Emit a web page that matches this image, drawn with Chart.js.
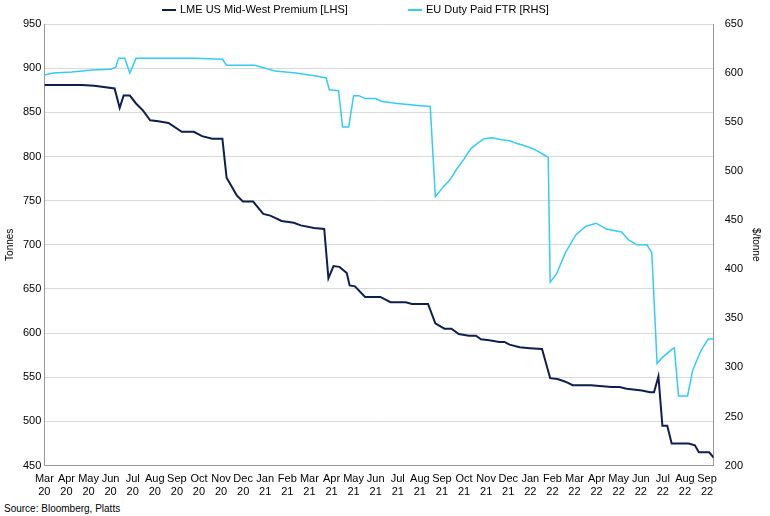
<!DOCTYPE html>
<html><head><meta charset="utf-8">
<script src="https://cdn.jsdelivr.net/npm/chart.js@4.4.0/dist/chart.umd.min.js"></script>
<style>
body{margin:0;background:#fff;font-family:"Liberation Sans",Arial,sans-serif}
#wrap{position:relative;width:770px;height:516px}
#src{position:absolute;left:4px;top:503px;font-size:10px;color:#000}
.lg{position:absolute;top:3px;font-size:11px;color:#000;white-space:nowrap}
.lg span{display:inline-block;width:14px;height:2px;vertical-align:middle;margin-right:4px}
</style></head><body>
<div id="wrap"><canvas id="c" width="770" height="502"></canvas>
<div class="lg" style="left:162px"><span style="background:#0d1f4f"></span>LME US Mid-West Premium [LHS]</div>
<div class="lg" style="left:408px"><span style="background:#33ccf5"></span>EU Duty Paid FTR [RHS]</div>
<div id="src">Source: Bloomberg, Platts</div></div>
<script>
const monthNames=['Mar','Apr','May','Jun','Jul','Aug','Sep','Oct','Nov','Dec','Jan','Feb'];
// x = months since Mar 2020
const lmeX=[0,1.7,2.26,3.18,3.41,3.59,3.87,4.15,4.47,4.79,5.16,5.62,6.22,6.77,7.14,7.6,8.06,8.25,8.71,8.99,9.45,9.91,10.23,10.74,11.29,11.61,12.21,12.67,12.86,13.09,13.36,13.69,13.82,14.06,14.52,15.21,15.67,16.36,16.64,17.37,17.7,18.11,18.43,18.76,19.22,19.54,19.77,20.14,20.6,20.83,21.06,21.52,21.98,22.53,22.9,23.23,23.59,23.92,24.75,25.67,26.04,26.36,27.05,27.42,27.6,27.8,27.98,28.2,28.4,29.17,29.45,29.63,30.1,30.3];
const lmeY=[881,881,880,877,855,869,869,860,852,841,840,838,828,828,823,820,820,776,756,749,749,735,733,727,725,722,719,718,662,676,675,668,654,653,641,641,635,635,633,633,611,605,605,599,597,597,593,592,590,590,587,584,583,582,549,548,545,541,541,539,539,537,535,533,533,551,495,495,475,475,473,465,465,459];
const euX=[0,0.41,1.24,2.17,3.0,3.23,3.36,3.64,3.87,4.15,6.77,8.06,8.25,9.54,10.0,10.46,11.38,12.3,12.76,12.9,13.32,13.5,13.78,14.0,14.24,14.52,14.98,15.3,15.99,16.91,17.47,17.7,18.06,18.39,18.66,18.99,19.31,19.59,19.91,20.28,20.69,21.06,21.29,21.75,22.21,22.67,22.81,22.9,23.18,23.59,24.06,24.52,24.98,25.44,26.13,26.45,26.82,27.28,27.5,27.74,27.97,28.43,28.52,28.71,29.12,29.35,29.72,30.05,30.32];
const euY=[598,600,601,603,604,606,615,615,600,615,615,614,608,608,605,602,600,597,595,583,582,545,545,577,577,574,574,571,569,567,566,474,484,492,502,512,523,528,533,534,532,531,529,526,522,516,514,387,395,417,435,444,447,441,438,430,425,425,417,304,310,319,320,271,271,297,317,329,329];
const pts=(xs,ys)=>xs.map((x,i)=>({x:x,y:ys[i]}));
Chart.defaults.font.family='"Liberation Sans", Arial, sans-serif';
Chart.defaults.font.size=11;
Chart.defaults.color='#000';
new Chart(document.getElementById('c'),{
type:'line',
data:{datasets:[
{label:'LME US Mid-West Premium [LHS]',data:pts(lmeX,lmeY),borderColor:'#0d1f4f',borderWidth:2,pointRadius:0,yAxisID:'y',tension:0},
{label:'EU Duty Paid FTR [RHS]',data:pts(euX,euY),borderColor:'#33ccf5',borderWidth:1.5,pointRadius:0,yAxisID:'y1',tension:0}
]},
options:{responsive:false,animation:false,
layout:{padding:{left:0,right:4,top:24,bottom:0}},
plugins:{legend:{display:false},tooltip:{enabled:false}},
scales:{
x:{type:'linear',min:0,max:30.3,afterBuildTicks:a=>{a.ticks=[];for(let i=0;i<=30;i++)a.ticks.push({value:i});},
 ticks:{autoSkip:false,maxRotation:0,callback:v=>[monthNames[v%12],String(20+Math.floor((v+2)/12))]},
 grid:{display:false,drawTicks:true,tickLength:4},border:{color:'#999'}},
y:{position:'left',min:450,max:950,ticks:{stepSize:50},title:{display:true,text:'Tonnes',font:{size:10}},grid:{color:'#d9d9d9',drawTicks:false},border:{color:'#999'}},
y1:{position:'right',min:200,max:650,ticks:{stepSize:50},title:{display:true,text:'$/tonne',font:{size:10}},grid:{display:false},border:{color:'#999'}}
}}});
</script></body></html>
